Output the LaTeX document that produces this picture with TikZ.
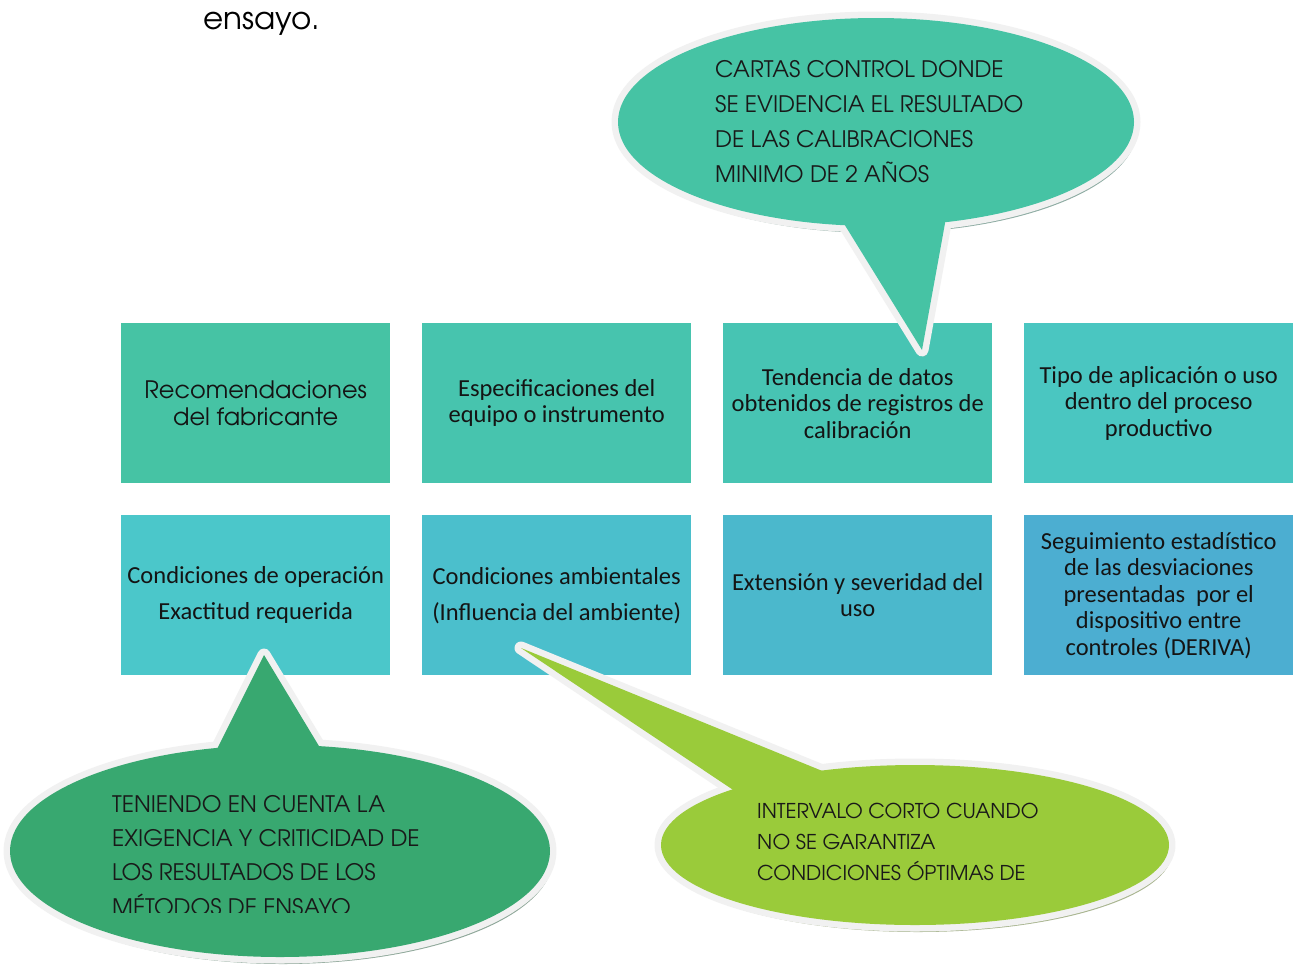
\documentclass[tikz,border=0pt]{standalone}
\usepackage{fontspec}
\setmainfont{Carlito}
\newfontfamily\adv{TeX Gyre Adventor}
\definecolor{c11}{HTML}{46C3A4}
\definecolor{c12}{HTML}{47C4AE}
\definecolor{c13}{HTML}{47C4B3}
\definecolor{c14}{HTML}{4AC6C1}
\definecolor{c21}{HTML}{4BC7CA}
\definecolor{c22}{HTML}{4BBFCC}
\definecolor{c23}{HTML}{4BB8CC}
\definecolor{c24}{HTML}{4CAED1}
\definecolor{callA}{HTML}{46C3A4}
\definecolor{callB}{HTML}{38A870}
\definecolor{callC}{HTML}{9ACB3A}
\definecolor{bordc}{HTML}{F1F1F1}
\definecolor{shadA}{HTML}{8FADA4}
\definecolor{shadB}{HTML}{8FA89A}
\definecolor{shadC}{HTML}{A8B58F}
\newcommand\mycallout[8]{%
  \fill[#8] ([shift={(3,7)}]#1) ellipse[x radius=#2, y radius=#3];
  \fill[#8] ([shift={(3,7)}]#4) -- ([shift={(3,7)}]#5) -- ([shift={(3,7)}]#6) -- cycle;
  \filldraw[bordc, line width=13pt, line join=round] (#1) ellipse[x radius=#2, y radius=#3];
  \filldraw[bordc, line width=13pt, line join=round] (#4) -- (#5) -- (#6) -- cycle;
  \fill[#7] (#1) ellipse[x radius=#2, y radius=#3];
  \fill[#7] (#4) -- (#5) -- (#6) -- cycle;
}
\begin{document}
\begin{tikzpicture}[x=1pt,y=-1pt,
  box/.style={anchor=north west, minimum width=269pt, minimum height=160pt, inner sep=0pt,
    align=center, text=black!92, font=\fontsize{24.5}{26.5}\selectfont},
  calltext/.style={anchor=base west, inner sep=0pt, text=black!90, font=\adv\fontsize{22.7}{26}\selectfont},
  calltextc/.style={anchor=base west, inner sep=0pt, text=black!90, font=\adv\fontsize{20.4}{24}\selectfont}]
\useasboundingbox (0,0) rectangle (1295,964);
\fill[white] (0,0) rectangle (1295,964);

\node[anchor=base west, inner sep=0pt, font=\adv\fontsize{31}{33}\selectfont] (ens) at (203,29) {ensayo.};

% boxes
\node[box, fill=c11, font=\adv\fontsize{24}{27}\selectfont] (b11) at (121,323) {Recomendaciones\\del fabricante};
\node[box, fill=c12] (b12) at (422,323) {Especificaciones del\\equipo o instrumento};
\node[box, fill=c13] (b13) at (723,323) {Tendencia de datos\\obtenidos de registros de\\calibración};
\node[box, fill=c14] (b14) at (1024,323) {Tipo de aplicación o uso\\dentro del proceso\\productivo};
\node[box, fill=c21] (b21) at (121,515) {Condiciones de operación\\[9.5pt]Exactitud requerida};
\node[box, fill=c22] (b22) at (422,515) {Condiciones ambientales\\[9.5pt](Influencia del ambiente)};
\node[box, fill=c23] (b23) at (723,515) {Extensión y severidad del\\uso};
\node[box, fill=c24] (b24) at (1024,515) {Seguimiento estadístico\\de las desviaciones\\presentadas\ \ por el\\dispositivo entre\\controles (DERIVA)};

% callout A (top)
\mycallout{876,122}{258pt}{104pt}{922,350}{834.6,208.5}{948.5,204}{callA}{shadA}
\node[calltext] (a1) at (715,77) {CARTAS CONTROL DONDE};
\node[calltext] (a2) at (715,112) {SE EVIDENCIA EL RESULTADO};
\node[calltext] (a3) at (715,147) {DE LAS CALIBRACIONES};
\node[calltext] (a4) at (715,182) {MINIMO DE 2 A\~NOS};

% callout B (bottom left)
\mycallout{280,851}{270pt}{106pt}{264,655}{211,761}{328,761}{callB}{shadB}
\begin{scope}
\clip (0,0) rectangle (1295,912.5);
\node[calltext] (bl1) at (112,812) {TENIENDO EN CUENTA LA};
\node[calltext] (bl2) at (112,846) {EXIGENCIA Y CRITICIDAD DE};
\node[calltext] (bl3) at (112,880) {LOS RESULTADOS DE LOS};
\node[calltext] (bl4) at (112,915) {MÉTODOS DE ENSAYO};
\end{scope}

% callout C (bottom right)
\mycallout{915,845}{254pt}{80pt}{521,648}{743,796.5}{842,779}{callC}{shadC}
\node[calltextc] (c1) at (757,818) {INTERVALO CORTO CUANDO};
\node[calltextc] (c2) at (757,849) {NO SE GARANTIZA};
\node[calltextc] (c3) at (757,880) {CONDICIONES ÓPTIMAS DE};
\end{tikzpicture}
\end{document}
